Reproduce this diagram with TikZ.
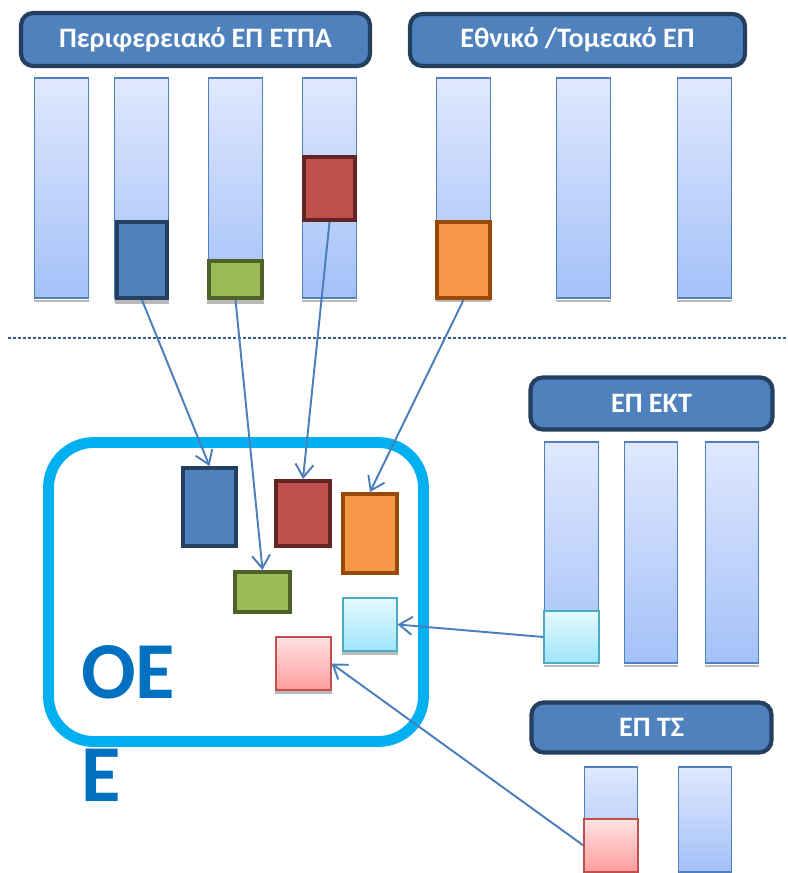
\documentclass[tikz,border=0pt]{standalone}
\usepackage{fontspec}
\setmainfont{Carlito}
\usetikzlibrary{arrows.meta}

\definecolor{hdrblue}{HTML}{4F81BD}
\definecolor{hdrdark}{HTML}{243F60}
\definecolor{coltop}{HTML}{DFE8FE}
\definecolor{colbot}{HTML}{A4C1F8}
\definecolor{grnfill}{HTML}{9BBB59}
\definecolor{grnedge}{HTML}{4F6228}
\definecolor{redfill}{HTML}{C0504D}
\definecolor{rededge}{HTML}{632523}
\definecolor{orgfill}{HTML}{F79646}
\definecolor{orgedge}{HTML}{984807}
\definecolor{cyantop}{HTML}{E4F9FE}
\definecolor{cyanbot}{HTML}{9FE6FA}
\definecolor{cyanedge}{HTML}{4BACC6}
\definecolor{pinktop}{HTML}{FFE2E2}
\definecolor{pinkbot}{HTML}{FF9D9D}
\definecolor{oeframe}{HTML}{00B0F0}
\definecolor{oetext}{HTML}{0070C0}
\definecolor{arrowblue}{HTML}{4A7EBB}
\definecolor{dotblue}{HTML}{385D8A}

\tikzset{
  hdr/.style={draw=hdrdark, fill=hdrblue, line width=2.4pt, rounded corners=7pt,
    text=white, font=\bfseries\fontsize{16}{18}\selectfont, inner sep=0pt},
  colbar/.style={draw=hdrblue, line width=0.8pt, top color=coltop, bottom color=colbot,
    minimum width=1.07cm, inner sep=0pt},
  blk/.style={line width=2.3pt, inner sep=0pt},
  lightblk/.style={line width=0.9pt, inner sep=0pt},
  conn/.style={draw=arrowblue, line width=1.1pt, -{Straight Barb[length=2.6mm,width=3.6mm]}},
}

\begin{document}
\begin{tikzpicture}[x=0.02cm, y=-0.02cm]
    \useasboundingbox (0,0) rectangle (788,873);

    % headers
    \node[hdr, minimum width=6.98cm, minimum height=1.06cm] (hERDF) at (195.5,39.5) {Περιφερειακό ΕΠ ΕΤΠΑ};
    \node[hdr, minimum width=6.7cm, minimum height=1.04cm] (hNat) at (577.5,40) {Εθνικό /Τομεακό ΕΠ};
    \node[hdr, minimum width=4.84cm, minimum height=1.04cm] (hESF) at (651.5,403.5) {ΕΠ ΕΚΤ};
    \node[hdr, minimum width=4.8cm, minimum height=1.0cm] (hCF) at (651.5,727.5) {ΕΠ ΤΣ};

    % columns
    \foreach \n/\x in {c1/61.5, c2/141.5, c3/235.5, c4/329.5, c5/463.5, c6/583.5, c7/704.5}
        \node[colbar, minimum height=4.4cm] (\n) at (\x,188) {};
    \foreach \n/\x in {r1/571.5, r2/651, r3/732}
        \node[colbar, minimum height=4.42cm] (\n) at (\x,552.5) {};
    \foreach \n/\x in {t1/611, t2/705}
        \node[colbar, minimum height=2.1cm] (\n) at (\x,819.5) {};

    % blocks in the programmes
    \node[blk, draw=hdrdark, fill=hdrblue, minimum width=1.0cm, minimum height=1.52cm] (bBlue) at (142,260) {};
    \node[blk, draw=grnedge, fill=grnfill, minimum width=1.06cm, minimum height=0.74cm] (bGreen) at (235.5,279.5) {};
    \node[blk, draw=rededge, fill=redfill, minimum width=1.02cm, minimum height=1.26cm] (bRed) at (329.5,188.5) {};
    \node[blk, draw=orgedge, fill=orgfill, minimum width=1.06cm, minimum height=1.52cm] (bOrange) at (463.5,260) {};
    \node[lightblk, draw=cyanedge, top color=cyantop, bottom color=cyanbot, minimum width=1.09cm, minimum height=1.03cm] (bCyan) at (571.5,637) {};
    \node[lightblk, draw=redfill, top color=pinktop, bottom color=pinkbot, minimum width=1.07cm, minimum height=1.05cm] (bPink) at (611,845.5) {};

    % dividing line
    \draw[dotblue, line width=1.4pt, dash pattern=on 0.054cm off 0.046cm] (8,338) -- (788,338);

    % OEE frame
    \node[draw=oeframe, line width=6.2pt, rounded corners=0.9cm, minimum width=7.5cm, minimum height=5.98cm] (oe) at (236,592) {};
    \node[text=oetext, font=\bfseries\fontsize{46}{58.6}\selectfont, align=left, anchor=base west, inner sep=0pt] (oeLabel) at (81,801) {ΟΕ\\Ε};

    % blocks in the OEE
    \node[blk, draw=hdrdark, fill=hdrblue, minimum width=1.06cm, minimum height=1.56cm] (iBlue) at (209.5,507) {};
    \node[blk, draw=rededge, fill=redfill, minimum width=1.08cm, minimum height=1.3cm] (iRed) at (303,513.5) {};
    \node[blk, draw=orgedge, fill=orgfill, minimum width=1.08cm, minimum height=1.58cm] (iOrange) at (370,533.5) {};
    \node[blk, draw=grnedge, fill=grnfill, minimum width=1.1cm, minimum height=0.8cm] (iGreen) at (262.5,592) {};
    \node[lightblk, draw=cyanedge, top color=cyantop, bottom color=cyanbot, minimum width=1.07cm, minimum height=1.05cm] (iCyan) at (370,624.5) {};
    \node[lightblk, draw=redfill, top color=pinktop, bottom color=pinkbot, minimum width=1.09cm, minimum height=1.05cm] (iPink) at (303.5,663.5) {};

    % shadows under the bars
    \foreach \n in {c1,c2,c3,c4,c5,c6,c7,r1,r2,r3,t1,t2,bBlue,bGreen,iCyan,iPink}
        \fill[gray!55] ([yshift=-0.5pt]\n.south west) rectangle ([yshift=-2pt]\n.south east);

    % connectors
    \draw[conn] (bBlue.south) -- (iBlue.north);
    \draw[conn] (bGreen.south) -- (iGreen.north);
    \draw[conn] (bRed.south) -- (iRed.north);
    \draw[conn] (bOrange.south) -- (iOrange.north);
    \draw[conn] (bCyan.west) -- (iCyan.east);
    \draw[conn] (bPink.west) -- (iPink.east);
\end{tikzpicture}
\end{document}
